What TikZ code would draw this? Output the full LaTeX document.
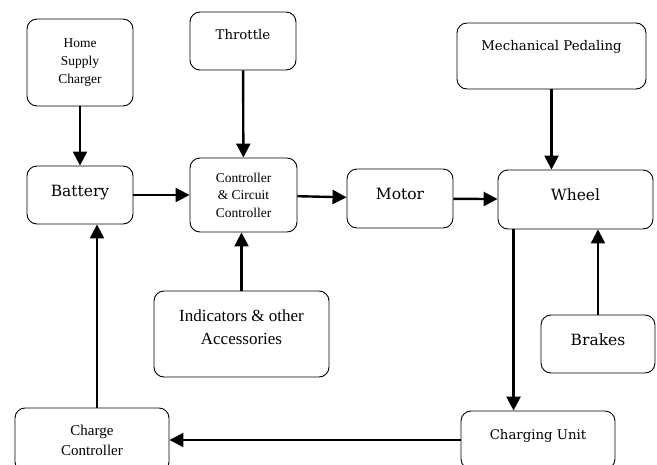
\documentclass[tikz,border=0pt]{standalone}
\usepackage{fontspec}
\newfontfamily\timesfont{Liberation Serif}
\newfontfamily\cambfont{DejaVu Serif}
\usetikzlibrary{arrows.meta, positioning}
\tikzstyle{arrow} = [-{Triangle[length=14pt, width=14pt]}, line width=2.4pt]
\tikzstyle{block} = [rectangle, rounded corners=10pt, draw=black, line width=0.9pt, text centered, inner sep=2pt]
\tikzstyle{big} = [font=\cambfont\fontsize{15.5}{18}\selectfont]
\tikzstyle{mid} = [font=\cambfont\fontsize{13.3}{16}\selectfont]
\newcommand*{\tsize}[2]{\timesfont\fontsize{#1}{#2}\selectfont}

\begin{document}
\begin{tikzpicture}[x=1pt, y=-1pt]
  \clip (0, 0) rectangle (657, 464);
  % Top Row
  \node[block, minimum width=106pt, minimum height=87pt, align=center, font=\tsize{13.5}{18}] (home) at (80, 62.5) {Home\\Supply\\Charger};
  \node[block, mid, minimum width=106pt, minimum height=58pt, text height=11pt, text depth=15pt] (throttle) at (243, 41) {Throttle};
  \node[block, mid, minimum width=189pt, minimum height=66pt, text height=11pt, text depth=21.5pt] (pedal) at (551.5, 56) {Mechanical Pedaling};

  % Middle Row
  \node[block, big, minimum width=106pt, minimum height=58pt, text height=12pt, text depth=8.5pt] (battery) at (80, 195) {Battery};
  \node[block, minimum width=107pt, minimum height=74pt, align=center, font=\tsize{13.5}{17.5}] (ctrl) at (243.5, 195) {Controller\\\& Circuit\\Controller};
  \node[block, big, minimum width=106pt, minimum height=59pt, text height=12pt, text depth=11pt] (motor) at (400, 198.5) {Motor};
  \node[block, big, minimum width=155pt, minimum height=59pt, text height=12pt, text depth=11pt] (wheel) at (575.5, 199.5) {Wheel};

  \draw[arrow] (home) -- (battery);
  \draw[arrow] (throttle) -- (ctrl);
  \draw[arrow] (pedal.south) -- (pedal.south |- wheel.north);
  \draw[arrow] (battery) -- (ctrl);
  \draw[arrow] (ctrl) -- (motor);
  \draw[arrow] (motor) -- (wheel);

  % Lower Row
  \node[block, minimum width=175pt, minimum height=86pt, align=center, font=\tsize{17}{23}, text height=34pt, text depth=14pt] (extras) at (241.5, 334) {Indicators \& other\\Accessories};
  \node[block, big, minimum width=114pt, minimum height=58pt, text height=12pt, text depth=10pt] (brakes) at (598, 344) {Brakes};

  \draw[arrow] (extras.north) -- (extras.north |- ctrl.south);
  \draw[arrow] (brakes.north) -- (brakes.north |- wheel.south);

  % Bottom Row
  \node[block, minimum width=154pt, minimum height=64pt, align=center, font=\tsize{15}{20}] (chargectl) at (92, 440) {Charge\\Controller};
  \node[block, mid, minimum width=154pt, minimum height=58pt, text height=11pt, text depth=13pt] (chargeunit) at (538, 440) {Charging Unit};

  \draw[arrow] ([xshift=16pt]wheel.south west) -- ([xshift=16pt]wheel.south west |- chargeunit.north);
  \draw[arrow] (chargeunit) -- (chargectl);
  \draw[arrow] ([xshift=5pt]chargectl.north) -- ([xshift=5pt]chargectl.north |- battery.south);
\end{tikzpicture}
\end{document}
